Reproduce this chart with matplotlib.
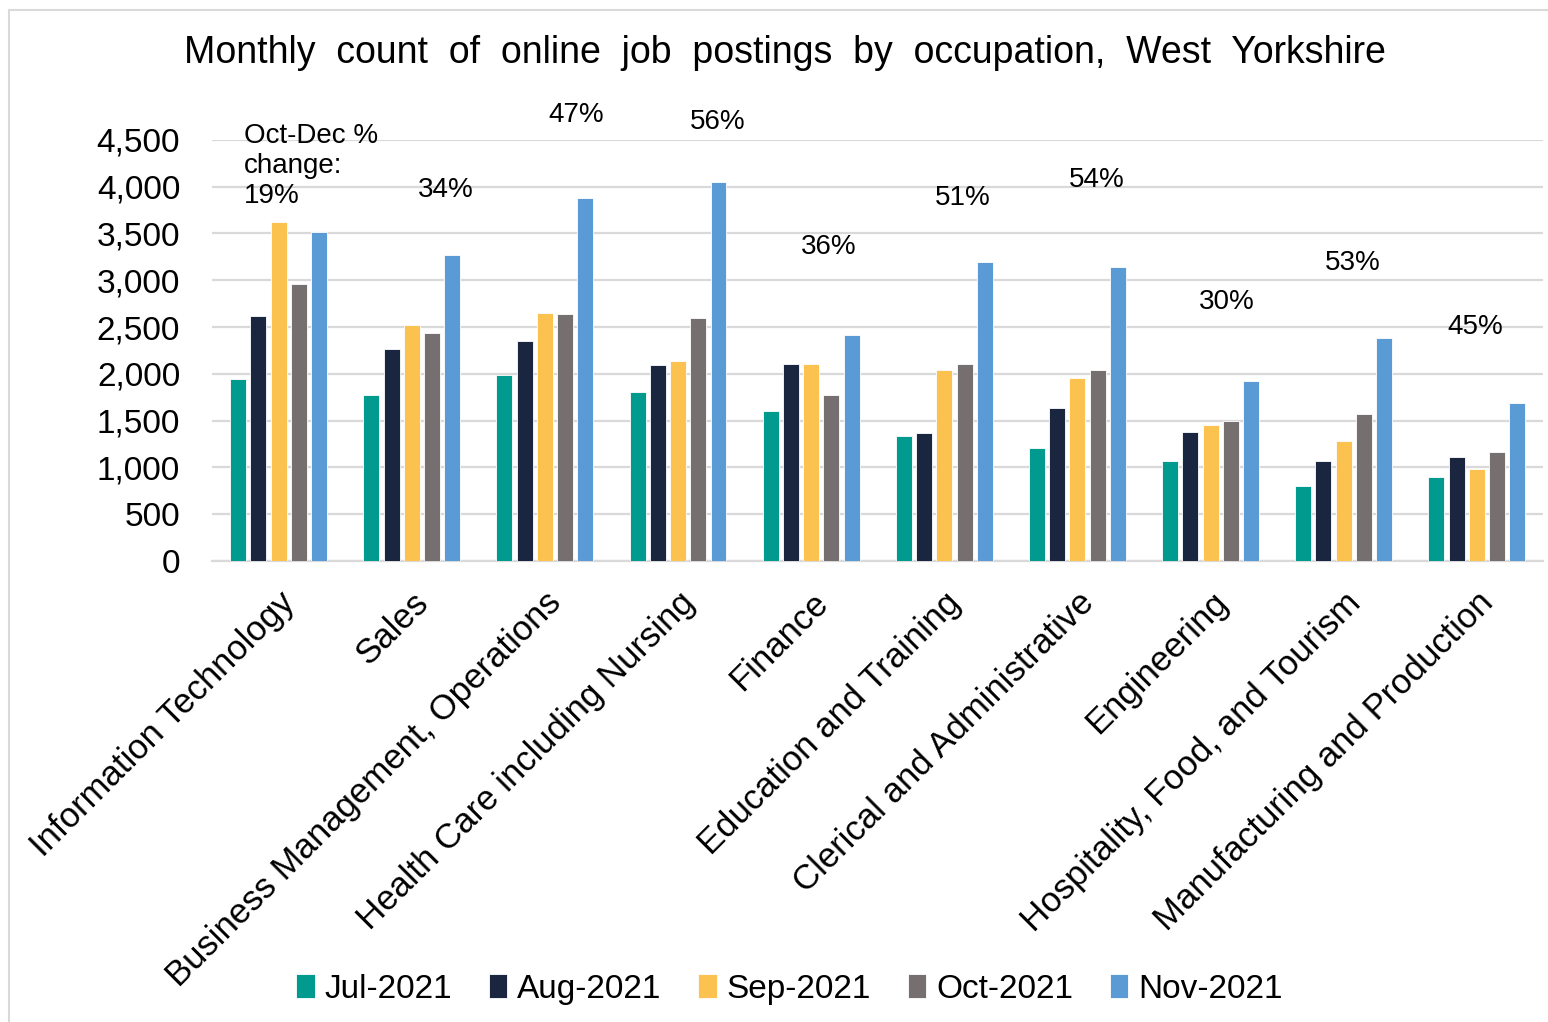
import matplotlib.pyplot as plt
import numpy as np
from matplotlib.patches import Rectangle

plt.rcParams["font.family"] = ["Liberation Sans", "DejaVu Sans"]

occupations = [
    "Information Technology", "Sales", "Business Management, Operations",
    "Health Care including Nursing", "Finance", "Education and Training",
    "Clerical and Administrative", "Engineering",
    "Hospitality, Food, and Tourism", "Manufacturing and Production",
]
months = ["Jul-2021", "Aug-2021", "Sep-2021", "Oct-2021", "Nov-2021"]

jul = [1947, 1773, 1983, 1805, 1599, 1338, 1207, 1068, 804, 894]
aug = [2613, 2264, 2353, 2090, 2101, 1364, 1631, 1375, 1068, 1111]
sep = [3624, 2524, 2645, 2133, 2101, 2037, 1951, 1449, 1285, 983]
octo = [2962, 2438, 2635, 2592, 1773, 2101, 2037, 1495, 1570, 1168]
nov = [3517, 3268, 3877, 4045, 2417, 3190, 3137, 1926, 2385, 1688]

pct_change = ["19%", "34%", "47%", "56%", "36%", "51%", "54%", "30%", "53%", "45%"]

# where the % labels sit (data coords), placed by hand in the original
label_x = [-0.258, 1.252, 2.237, 3.296, 4.130, 5.137, 6.143, 7.120, 8.067, 8.991]
label_y = [4219, 3962, 4763, 4689, 3354, 3877, 4069, 2766, 3183, 2499]

colors = ["#009A8F", "#1A2640", "#FBC24F", "#75706F", "#5B9BD5"]

series = [jul, aug, sep, octo, nov]

fig = plt.figure(figsize=(15.48, 10.22), dpi=100)
ax = fig.add_axes([0.137, 0.4511, 0.86, 0.412])

x = np.arange(len(occupations))
pitch = 0.152
width = 0.12
for i, (vals, col, lab) in enumerate(zip(series, colors, months)):
    ax.bar(x + (i - 2) * pitch, vals, width, color=col, label=lab,
           edgecolor="white", linewidth=0.6, zorder=3)

ax.set_xlim(-0.5, 9.5)
ax.set_ylim(0, 4500)
ax.set_yticks(np.arange(0, 4501, 500))
ax.set_yticklabels([f"{v:,}" for v in range(0, 4501, 500)])
ax.yaxis.grid(True, color="#D9D9D9", linewidth=1.6, zorder=0)
ax.set_axisbelow(True)
for s in ["top", "right", "left"]:
    ax.spines[s].set_visible(False)
ax.spines["bottom"].set_color("#D9D9D9")
ax.spines["bottom"].set_linewidth(1.6)
ax.tick_params(axis="y", length=0, labelsize=24, pad=23)
ax.tick_params(axis="x", length=0, pad=18)
ax.set_xticks(x)
ax.set_xticklabels(occupations, rotation=45, ha="right",
                   rotation_mode="anchor", fontsize=25)

for i, (txt, lx, ly) in enumerate(zip(pct_change, label_x, label_y)):
    if i == 0:
        ax.text(lx, ly, "Oct-Dec %\nchange:\n" + txt, ha="left", va="center",
                fontsize=20, linespacing=1.2, clip_on=False)
    else:
        ax.text(lx, ly, txt, ha="center", va="center", fontsize=20,
                clip_on=False)

title = "Monthly count of online job postings by occupation, West Yorkshire"
fig.text(0.507, 0.948, title.replace(" ", "  "),
         ha="center", va="center", fontsize=27)

fig.legend(loc="center", bbox_to_anchor=(0.51, 0.032), ncol=5, frameon=False,
           fontsize=24, handlelength=0.55, handleheight=0.7, handletextpad=0.3,
           columnspacing=1.1)

fig.patches.append(Rectangle((9 / 1548, -0.1), 1.2, 1 - 10 / 1022 + 0.1,
                             transform=fig.transFigure, fill=False,
                             edgecolor="#D9D9D9", linewidth=1.5))

fig.savefig("out.png", dpi=100)
